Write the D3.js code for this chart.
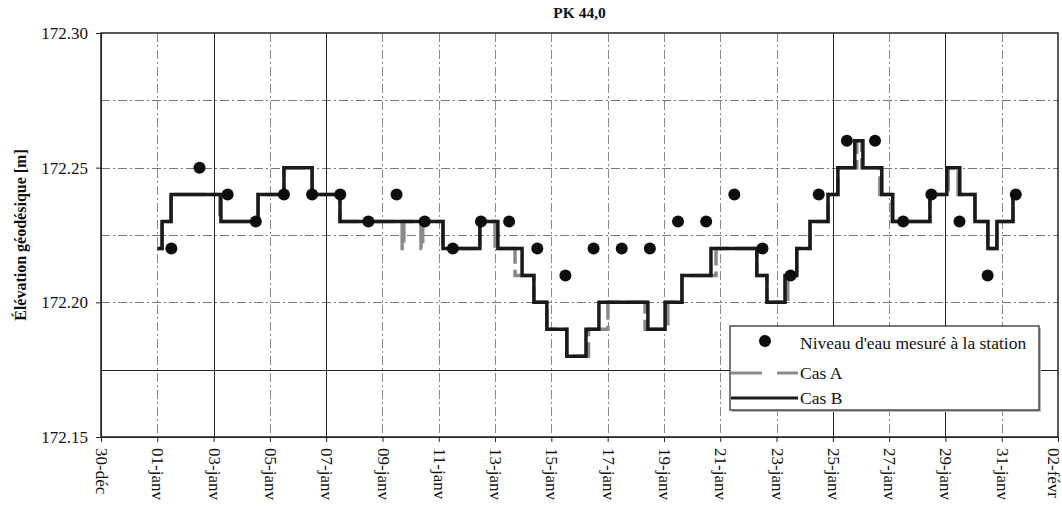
<!DOCTYPE html>
<html>
<head>
<meta charset="utf-8">
<script src="https://cdn.jsdelivr.net/npm/d3@7"></script>
<style>
  body { margin: 0; background: #fff; }
  svg { display: block; }
  text { font-family: "Liberation Serif", "Times New Roman", serif; fill: #111; }
</style>
</head>
<body>
<svg id="chart" width="1062" height="507"></svg>
<script>
// ---------- DATA ----------
// time unit: day of January (1.0 = 01-janv 00:00, -1 = 30-déc, 33 = 02-févr)
const chartTitle = "PK 44,0";
const yAxisTitle = "Élévation géodésique [m]";

const xTickDays = [-1, 1, 3, 5, 7, 9, 11, 13, 15, 17, 19, 21, 23, 25, 27, 29, 31, 33];
const xTickLabels = ["30-déc", "01-janv", "03-janv", "05-janv", "07-janv", "09-janv", "11-janv",
  "13-janv", "15-janv", "17-janv", "19-janv", "21-janv", "23-janv", "25-janv", "27-janv",
  "29-janv", "31-janv", "02-févr"];
const yTickValues = [172.15, 172.20, 172.25, 172.30];
const yTickLabels = ["172.15", "172.20", "172.25", "172.30"];
const yGridValues = [172.175, 172.20, 172.225, 172.25, 172.275];

// Niveau d'eau mesuré à la station (one reading per day, around noon)
const measuredDays = [1.5, 2.5, 3.5, 4.5, 5.5, 6.5, 7.5, 8.5, 9.5, 10.5, 11.5, 12.5, 13.5, 14.5,
  15.5, 16.5, 17.5, 18.5, 19.5, 20.5, 21.5, 22.5, 23.5, 24.5, 25.5, 26.5, 27.5, 28.5, 29.5, 30.5, 31.5];
const measuredValues = [172.22, 172.25, 172.24, 172.23, 172.24, 172.24, 172.24, 172.23, 172.24, 172.23,
  172.22, 172.23, 172.23, 172.22, 172.21, 172.22, 172.22, 172.22, 172.23, 172.23,
  172.24, 172.22, 172.21, 172.24, 172.26, 172.26, 172.23, 172.24, 172.23, 172.21, 172.24];

// Cas B (step series: time of change, new level)
const caseBDays = [1.0, 1.17, 1.49, 3.26, 4.58, 5.50, 6.50, 7.49, 11.15, 12.46, 13.10, 13.96, 14.38,
  14.84, 15.55, 16.23, 16.69, 18.43, 19.04, 19.64, 20.67, 22.30, 22.66, 23.30, 23.72, 24.19, 24.83,
  25.18, 25.78, 26.07, 26.74, 27.13, 28.45, 29.05, 29.51, 30.05, 30.51, 30.83, 31.40, 31.48];
const caseBValues = [172.22, 172.23, 172.24, 172.23, 172.24, 172.25, 172.24, 172.23, 172.22, 172.23,
  172.22, 172.21, 172.20, 172.19, 172.18, 172.19, 172.20, 172.19, 172.20, 172.21, 172.22, 172.21,
  172.20, 172.21, 172.22, 172.23, 172.24, 172.25, 172.26, 172.25, 172.24, 172.23, 172.24, 172.25,
  172.24, 172.23, 172.22, 172.23, 172.24, 172.24];

// Cas A (step series)
const caseADays = [1.0, 1.17, 1.49, 3.22, 4.58, 5.50, 6.50, 7.49, 9.70, 9.76, 10.37, 10.43, 11.15,
  12.46, 13.00, 13.71, 14.38, 14.84, 15.55, 16.32, 17.01, 18.33, 19.14, 19.64, 20.85, 22.30, 22.66,
  23.40, 23.72, 24.19, 24.83, 25.18, 25.85, 26.03, 26.67, 27.10, 28.45, 29.10, 29.45, 30.05, 30.51,
  30.83, 31.40, 31.48];
const caseAValues = [172.22, 172.23, 172.24, 172.23, 172.24, 172.25, 172.24, 172.23, 172.22, 172.23,
  172.22, 172.23, 172.22, 172.23, 172.22, 172.21, 172.20, 172.19, 172.18, 172.19, 172.20, 172.19,
  172.20, 172.21, 172.22, 172.21, 172.20, 172.21, 172.22, 172.23, 172.24, 172.25, 172.26, 172.25,
  172.24, 172.23, 172.24, 172.25, 172.24, 172.23, 172.22, 172.23, 172.24, 172.24];

const legendLabels = ["Niveau d'eau mesuré à la station", "Cas A", "Cas B"];
const solidGridDays = [3, 7, 25, 29];

// ---------- CHART ----------
const svg = d3.select("#chart");
const margin = { left: 101, right: 1058, top: 33, bottom: 437 };

const x = d3.scaleLinear().domain([-1, 33]).range([margin.left, margin.right]);
const y = d3.scaleLinear().domain([172.15, 172.30]).range([margin.bottom, margin.top]);

// Grid
const grid = svg.append("g");
grid.selectAll("line.hg").data(yGridValues).join("line")
  .attr("x1", margin.left).attr("x2", margin.right)
  .attr("y1", d => Math.round(y(d)) + 0.5).attr("y2", d => Math.round(y(d)) + 0.5)
  .attr("stroke", d => d === 172.175 ? "#222" : "#777")
  .attr("stroke-width", 1)
  .attr("stroke-dasharray", d => d === 172.175 ? null : "9,3,2,3");

grid.selectAll("line.vg").data(xTickDays.slice(1, -1)).join("line")
  .attr("y1", margin.top).attr("y2", margin.bottom)
  .attr("x1", d => Math.round(x(d)) + 0.5).attr("x2", d => Math.round(x(d)) + 0.5)
  .attr("stroke", d => solidGridDays.includes(d) ? "#222" : "#888")
  .attr("stroke-width", 1)
  .attr("stroke-dasharray", d => solidGridDays.includes(d) ? null : "9,3,2,3");

// Frame
svg.append("rect")
  .attr("x", margin.left).attr("y", margin.top)
  .attr("width", margin.right - margin.left).attr("height", margin.bottom - margin.top)
  .attr("fill", "none").attr("stroke", "#222").attr("stroke-width", 1.5);

// Axes
const yAxis = d3.axisLeft(y).tickValues(yTickValues)
  .tickFormat((d, i) => yTickLabels[i]).tickSize(5).tickSizeOuter(0);
const gy = svg.append("g").attr("transform", `translate(${margin.left},0)`).call(yAxis);
gy.select(".domain").attr("stroke", "#222");
gy.selectAll(".tick line").attr("stroke", "#222");
gy.selectAll(".tick text").attr("x", -13).attr("font-size", "17px")
  .attr("font-family", "Liberation Serif, serif").attr("fill", "#111");

const xAxis = d3.axisBottom(x).tickValues(xTickDays)
  .tickFormat((d, i) => xTickLabels[i]).tickSize(5).tickSizeOuter(0);
const gx = svg.append("g").attr("transform", `translate(0,${margin.bottom})`).call(xAxis);
gx.select(".domain").attr("stroke", "#222");
gx.selectAll(".tick line").attr("stroke", "#222");
gx.selectAll(".tick text")
  .attr("font-size", "17px").attr("font-family", "Liberation Serif, serif").attr("fill", "#111")
  .attr("text-anchor", "start")
  .attr("transform", (d, i) => `translate(${i === xTickDays.length - 1 ? -5 : 0},11) rotate(90)`)
  .attr("x", 0).attr("y", 0).attr("dy", "0.32em");

// Series
const toPts = (days, vals) => days.map((d, i) => [d, vals[i]]);
const stepLine = d3.line().x(d => x(d[0])).y(d => y(d[1])).curve(d3.curveStepAfter);

svg.append("path").datum(toPts(caseADays, caseAValues))
  .attr("d", stepLine).attr("fill", "none")
  .attr("stroke", "#8a8a8a").attr("stroke-width", 3.5)
  .attr("stroke-dasharray", "30,6");

svg.append("path").datum(toPts(caseBDays, caseBValues))
  .attr("d", stepLine).attr("fill", "none")
  .attr("stroke", "#1a1a1a").attr("stroke-width", 3.5)
  .attr("stroke-linejoin", "miter");

svg.append("g").selectAll("circle").data(toPts(measuredDays, measuredValues)).join("circle")
  .attr("cx", d => x(d[0])).attr("cy", d => y(d[1])).attr("r", 6)
  .attr("fill", "#0d0d0d");

// Title
svg.append("text").attr("x", (margin.left + margin.right) / 2).attr("y", 18)
  .attr("text-anchor", "middle").attr("font-weight", "bold").attr("font-size", "15.5px")
  .text(chartTitle);

// Y axis title
svg.append("text")
  .attr("transform", `translate(26,${(margin.top + margin.bottom) / 2}) rotate(-90)`)
  .attr("text-anchor", "middle").attr("font-weight", "bold").attr("font-size", "16px")
  .text(yAxisTitle);

// Legend
const lg = svg.append("g");
const lx = 730, ly = 326, lw = 309, lh = 84;
lg.append("rect").attr("x", lx + 2).attr("y", ly + 2).attr("width", lw).attr("height", lh)
  .attr("fill", "#bbb");
lg.append("rect").attr("x", lx).attr("y", ly).attr("width", lw).attr("height", lh)
  .attr("fill", "#fff").attr("stroke", "#222").attr("stroke-width", 1.2);
const rowY = [343, 373, 398];
lg.append("circle").attr("cx", 765).attr("cy", 341).attr("r", 6).attr("fill", "#0d0d0d");
lg.append("line").attr("x1", 731).attr("x2", 798).attr("y1", rowY[1]).attr("y2", rowY[1])
  .attr("stroke", "#8a8a8a").attr("stroke-width", 3).attr("stroke-dasharray", "31,15");
lg.append("line").attr("x1", 731).attr("x2", 798).attr("y1", rowY[2]).attr("y2", rowY[2])
  .attr("stroke", "#1a1a1a").attr("stroke-width", 3);
lg.selectAll("text").data(legendLabels).join("text")
  .attr("x", 800).attr("y", (d, i) => rowY[i]).attr("dy", "0.35em")
  .attr("font-size", "17.5px").text(d => d);
</script>
</body>
</html>
